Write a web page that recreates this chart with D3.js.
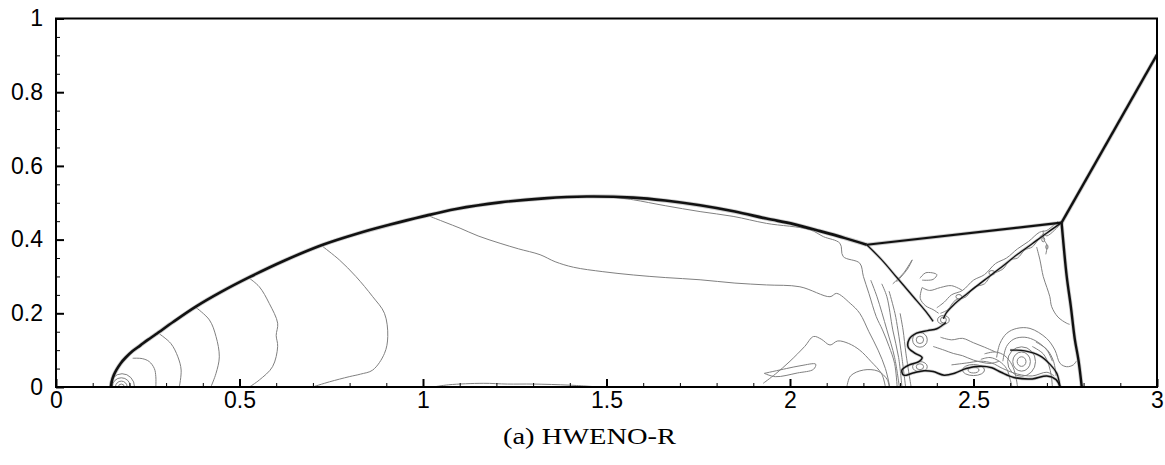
<!DOCTYPE html>
<meta charset="utf-8">
<script src="https://d3js.org/d3.v7.min.js"></script>
<style>
  body { margin: 0; background: #fff; }
  .axis text { font-family: "Liberation Sans", Arial, sans-serif; font-size: 23px; fill: #000; }
  .caption { font-family: "Liberation Serif", "DejaVu Serif", serif; font-size: 23px; }
</style>
<div id="chart"></div>
<script>
// plot frame
var width = 1165, height = 465
var margin = {top: 18.5, right: 8, bottom: 78, left: 56}

// axis ticks
var xTicks = [0, 0.5, 1, 1.5, 2, 2.5, 3]
var xMinor = [0.1,0.2,0.3,0.4,0.6,0.7,0.8,0.9,1.1,1.2,1.3,1.4,1.6,1.7,1.8,1.9,2.1,2.2,2.3,2.4,2.6,2.7,2.8,2.9]
var yTicks = [0, 0.2, 0.4, 0.6, 0.8, 1]
var yMinor = [0.05,0.1,0.15,0.25,0.3,0.35,0.45,0.5,0.55,0.65,0.7,0.75,0.85,0.9,0.95]
var xLabels = ["0", "0.5", "1", "1.5", "2", "2.5", "3"]
var yLabels = ["0", "0.2", "0.4", "0.6", "0.8", "1"]
var caption = "(a) HWENO-R"

// shock fronts (thick)
var bowShock = [[0.150,0.0],[0.152,0.015],[0.157,0.031],[0.165,0.047],[0.176,0.064],[0.19,0.080],[0.208,0.097],
  [0.23,0.113],[0.25,0.128],[0.272,0.143],[0.32,0.177],[0.381,0.218],[0.45,0.258],[0.527,0.298],[0.62,0.342],
  [0.727,0.386],[0.82,0.416],[0.908,0.440],[1.0,0.463],[1.090,0.483],[1.210,0.501],[1.33,0.512],[1.446,0.517],
  [1.573,0.514],[1.66,0.506],[1.755,0.493],[1.85,0.476],[1.936,0.457],[2.01,0.442],[2.082,0.423],[2.15,0.404],[2.209,0.386]]
var machTop = [[2.209,0.386],[2.740,0.446]]
var incidentShock = [[2.740,0.446],[3.0,0.902]]
var machStem = [[2.740,0.446],[2.754,0.30],[2.765,0.22],[2.776,0.13],[2.786,0.073],[2.795,0.0]]
var reflectedShock = [[2.209,0.386],[2.25,0.345],[2.293,0.295],[2.336,0.245],[2.37,0.205],[2.39,0.178]]
var slipLine = [[2.740,0.446],[2.70,0.418],[2.66,0.389],[2.62,0.36],[2.572,0.322],[2.527,0.288],
  [2.481,0.252],[2.445,0.222],[2.425,0.2],[2.418,0.185]]
var rollUp = [[2.425,0.175],[2.40,0.158],[2.375,0.153],[2.345,0.146],[2.325,0.13],[2.322,0.108],[2.34,0.092],
  [2.36,0.080],[2.35,0.068],[2.325,0.060],[2.305,0.046],[2.310,0.032],[2.335,0.038],[2.365,0.044],[2.39,0.042],
  [2.42,0.032],[2.45,0.038],[2.48,0.05],[2.52,0.056],[2.55,0.052],[2.575,0.04],[2.61,0.026],[2.66,0.022],
  [2.70,0.03],[2.725,0.02],[2.736,0.0]]
var vortexArc = [[2.60,0.10],[2.64,0.098],[2.68,0.085],[2.71,0.06],[2.727,0.037],[2.736,0.0]]

// thin density contours
var contours = [
  [[0.209,0.078],[0.235,0.077],[0.254,0.069],[0.268,0.05],[0.272,0.028],[0.272,0.0]],
  [[0.282,0.144],[0.313,0.118],[0.332,0.082],[0.341,0.046],[0.336,0.0]],
  [[0.381,0.216],[0.418,0.182],[0.436,0.137],[0.445,0.082],[0.436,0.037],[0.422,0.0]],
  [[0.527,0.295],[0.554,0.272],[0.581,0.227],[0.604,0.173],[0.60,0.140],[0.604,0.110],[0.590,0.055],[0.554,0.019],[0.527,0.0]],
  [[0.727,0.381],[0.772,0.345],[0.817,0.300],[0.863,0.245],[0.895,0.200],[0.904,0.137],[0.895,0.091],
   [0.863,0.046],[0.830,0.035],[0.799,0.028],[0.745,0.014],[0.699,0.0]],
  [[1.019,0.463],[1.06,0.447],[1.101,0.431],[1.15,0.41],[1.21,0.390],[1.26,0.375],[1.319,0.359],[1.36,0.34],
   [1.41,0.325],[1.49,0.313],[1.573,0.304],[1.66,0.297],[1.755,0.291],[1.85,0.282],[1.936,0.277],[2.027,0.272],
   [2.109,0.245],[2.127,0.254],[2.164,0.227],[2.19,0.20],[2.215,0.15],[2.24,0.10],[2.26,0.05],[2.272,0.0]],
  [[1.52,0.515],[1.573,0.508],[1.66,0.492],[1.755,0.476],[1.845,0.463],[1.936,0.444],[2.054,0.427],[2.091,0.408],
   [2.136,0.39],[2.145,0.354],[2.19,0.336],[2.20,0.30],[2.215,0.254],[2.235,0.191],[2.252,0.155],[2.27,0.11],
   [2.285,0.064],[2.292,0.0]],
  [[2.22,0.29],[2.237,0.245],[2.264,0.155],[2.285,0.08],[2.298,0.0]],
  [[2.25,0.28],[2.264,0.245],[2.28,0.155],[2.296,0.08],[2.305,0.0]],
  [[2.27,0.26],[2.286,0.2],[2.294,0.155],[2.305,0.08],[2.315,0.0]],
  [[2.30,0.2],[2.308,0.155],[2.316,0.09],[2.33,0.0]],
  [[1.927,0.01],[1.96,0.035],[2.0,0.07],[2.04,0.11],[2.064,0.137],[2.085,0.13],[2.109,0.114],[2.13,0.125],
   [2.16,0.118],[2.19,0.10],[2.22,0.07],[2.25,0.035],[2.26,0.0]],
  [[1.93,0.037],[1.99,0.05],[2.03,0.058],[2.07,0.062],[2.064,0.048],[2.02,0.038],[1.96,0.028],[1.93,0.037]],
  [[2.155,0.0],[2.165,0.03],[2.2,0.046],[2.24,0.043],[2.265,0.02],[2.27,0.0]],
  [[1.028,0.0],[1.07,0.006],[1.164,0.01],[1.23,0.008],[1.30,0.008],[1.40,0.005],[1.48,0.0]],
  [[2.28,0.28],[2.31,0.31],[2.333,0.345],[2.32,0.32],[2.29,0.285]],
  [[2.354,0.295],[2.37,0.31],[2.40,0.305],[2.39,0.292],[2.36,0.29]],
  [[2.36,0.27],[2.38,0.262],[2.41,0.27],[2.44,0.275],[2.47,0.262]],
  [[2.36,0.27],[2.355,0.24],[2.37,0.22],[2.39,0.21],[2.405,0.2]],
  [[2.735,0.44],[2.70,0.41],[2.69,0.415],[2.66,0.38],[2.64,0.372],[2.62,0.35],[2.60,0.345],[2.58,0.32],
   [2.55,0.305],[2.53,0.28],[2.50,0.27],[2.48,0.245],[2.45,0.235],[2.43,0.21],[2.41,0.2]],
  [[2.73,0.45],[2.70,0.425],[2.68,0.42],[2.65,0.395],[2.62,0.375],[2.59,0.35],[2.56,0.335],[2.53,0.305],
   [2.50,0.29],[2.47,0.262],[2.44,0.25],[2.42,0.23],[2.40,0.215]],
  [[2.672,0.38],[2.681,0.345],[2.69,0.30],[2.70,0.27],[2.708,0.245],[2.713,0.218],[2.73,0.19],[2.754,0.173],[2.762,0.17]],
  [[2.69,0.425],[2.692,0.40],[2.70,0.385],[2.697,0.36]],
  [[2.39,0.11],[2.42,0.10],[2.445,0.091],[2.47,0.085],[2.5,0.073],[2.545,0.064],[2.57,0.07]],
  [[2.41,0.135],[2.44,0.128],[2.47,0.132],[2.5,0.12],[2.53,0.108],[2.56,0.095]],
  [[2.563,0.08],[2.572,0.118],[2.591,0.146],[2.618,0.159],[2.654,0.159],[2.699,0.132],[2.722,0.10],
   [2.736,0.064],[2.754,0.055],[2.772,0.06],[2.78,0.07]],
  [[2.58,0.07],[2.59,0.11],[2.61,0.13],[2.64,0.135],[2.67,0.125],[2.70,0.10],[2.715,0.07]],
  [[2.52,0.075],[2.545,0.08],[2.57,0.07],[2.59,0.05],[2.60,0.02],[2.605,0.0]],
  [[2.53,0.09],[2.56,0.095],[2.585,0.085],[2.605,0.06],[2.615,0.03],[2.62,0.0]],
  [[2.66,0.11],[2.69,0.09],[2.705,0.06],[2.712,0.03],[2.715,0.0]],
  [[2.67,0.122],[2.70,0.102],[2.718,0.07],[2.725,0.03]],
  [[2.44,0.06],[2.48,0.065],[2.52,0.07],[2.55,0.065],[2.58,0.05],[2.62,0.035],[2.66,0.03],[2.70,0.04],[2.72,0.03]]
]

// closed vortex rings: centre x, centre y, radius x, radius y
var rings = [
  [0.178,0.0,0.008,0.008],[0.178,0.0,0.016,0.016],[0.178,0.0,0.025,0.025],[0.180,0.0,0.034,0.036],
  [2.631,0.069,0.012,0.013],[2.631,0.069,0.024,0.026],[2.631,0.069,0.038,0.040],
  [2.50,0.046,0.015,0.008],[2.50,0.046,0.030,0.015],
  [2.354,0.055,0.010,0.008],[2.354,0.055,0.020,0.014],
  [2.354,0.128,0.010,0.010],[2.354,0.128,0.020,0.020],
  [2.418,0.182,0.008,0.008],[2.418,0.182,0.016,0.012],
  [2.69,0.40,0.004,0.006],[2.70,0.38,0.003,0.006],[2.46,0.245,0.008,0.006],[2.55,0.31,0.008,0.006]
]

var svg = d3.select("#chart").append("svg")
  .attr("width", width)
  .attr("height", height)

var x = d3.scaleLinear().domain([0, 3]).range([margin.left, width - margin.right])
var y = d3.scaleLinear().domain([0, 1]).range([height - margin.bottom, margin.top])

svg.append("clipPath").attr("id", "clip")
  .append("rect")
  .attr("x", x(0)).attr("y", y(1))
  .attr("width", x(3) - x(0)).attr("height", y(0) - y(1))

var plot = svg.append("g").attr("clip-path", "url(#clip)")

var line = d3.line()
  .x(function(d){ return x(d[0]) })
  .y(function(d){ return y(d[1]) })
  .curve(d3.curveCatmullRom.alpha(0.5))

// thin contours
plot.selectAll(".thin")
  .data(contours)
  .enter()
  .append("path")
  .attr("d", line)
  .attr("fill", "none")
  .attr("stroke", "#808080")
  .attr("stroke-width", 1)

plot.selectAll(".ring")
  .data(rings)
  .enter()
  .append("ellipse")
  .attr("cx", function(d){ return x(d[0]) })
  .attr("cy", function(d){ return y(d[1]) })
  .attr("rx", function(d){ return x(d[2]) - x(0) })
  .attr("ry", function(d){ return y(0) - y(d[3]) })
  .attr("fill", "none")
  .attr("stroke", "#808080")
  .attr("stroke-width", 1)

// shocks: grey halo then dark core
var shocks = [
  {pts: bowShock, w: 2.6},
  {pts: machTop, w: 2.2},
  {pts: incidentShock, w: 2.4},
  {pts: machStem, w: 2.4},
  {pts: reflectedShock, w: 1.3},
  {pts: slipLine, w: 1.3},
  {pts: rollUp, w: 1.5},
  {pts: vortexArc, w: 1.3}
]

plot.selectAll(".halo")
  .data(shocks)
  .enter()
  .append("path")
  .attr("d", function(d){ return line(d.pts) })
  .attr("fill", "none")
  .attr("stroke", "#999")
  .attr("stroke-opacity", 0.5)
  .attr("stroke-width", function(d){ return d.w + 1.6 })

plot.selectAll(".shock")
  .data(shocks)
  .enter()
  .append("path")
  .attr("d", function(d){ return line(d.pts) })
  .attr("fill", "none")
  .attr("stroke", "#111")
  .attr("stroke-width", function(d){ return d.w })

// axes, ticks point inward
svg.append("g")
  .attr("class", "axis")
  .attr("transform", "translate(0," + y(0) + ")")
  .call(d3.axisBottom(x).tickValues(xTicks).tickSize(-8).tickPadding(5)
    .tickFormat(function(d, i){ return xLabels[i] }))
  .call(function(g){ g.select(".domain").remove() })
  .selectAll("line").attr("stroke-width", 2)

svg.append("g")
  .attr("transform", "translate(0," + y(0) + ")")
  .call(d3.axisBottom(x).tickValues(xMinor).tickSize(-4).tickFormat(""))
  .call(function(g){ g.select(".domain").remove() })

svg.append("g")
  .attr("class", "axis")
  .attr("transform", "translate(" + x(0) + ",0)")
  .call(d3.axisLeft(y).tickValues(yTicks).tickSize(-8).tickPadding(13)
    .tickFormat(function(d, i){ return yLabels[i] }))
  .call(function(g){ g.select(".domain").remove() })
  .selectAll("line").attr("stroke-width", 2)

svg.append("g")
  .attr("transform", "translate(" + x(0) + ",0)")
  .call(d3.axisLeft(y).tickValues(yMinor).tickSize(-4).tickFormat(""))
  .call(function(g){ g.select(".domain").remove() })

// frame
svg.append("rect")
  .attr("x", x(0)).attr("y", y(1))
  .attr("width", x(3) - x(0)).attr("height", y(0) - y(1))
  .attr("fill", "none")
  .attr("stroke", "#000")
  .attr("stroke-width", 2)

svg.append("text")
  .attr("class", "caption")
  .attr("x", 503)
  .attr("y", 444)
  .attr("textLength", 173)
  .attr("lengthAdjust", "spacingAndGlyphs")
  .text(caption)
</script>
